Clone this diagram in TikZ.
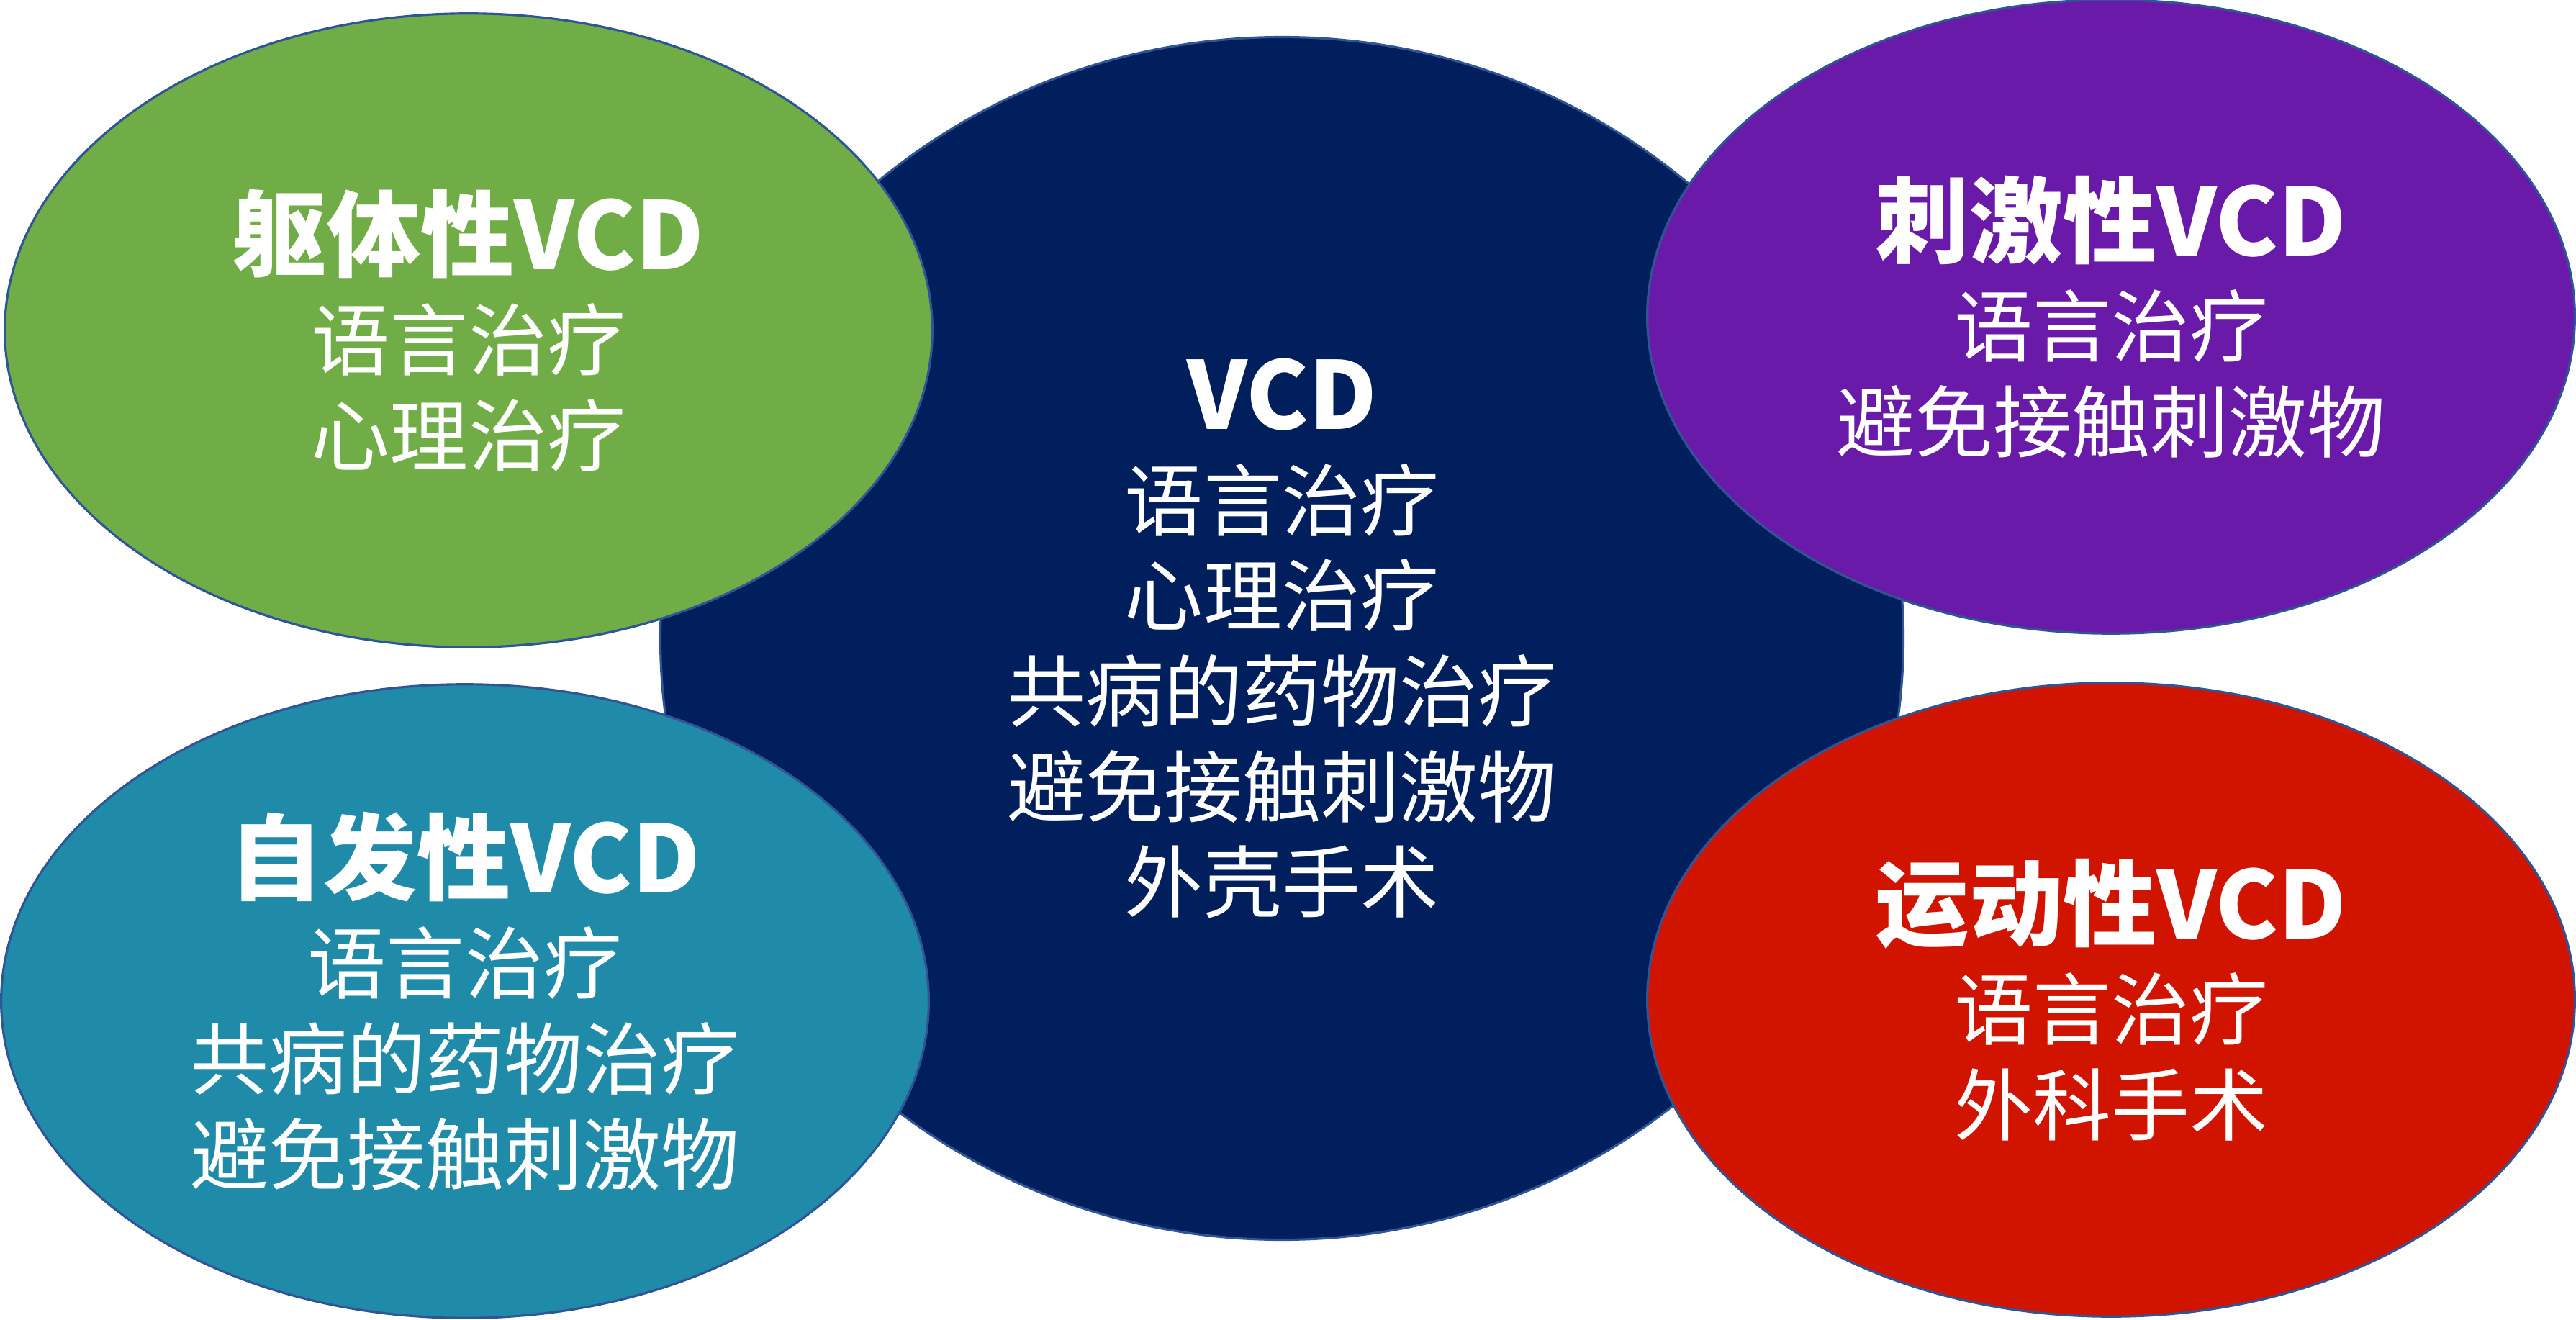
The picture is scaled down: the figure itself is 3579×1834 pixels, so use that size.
\documentclass[tikz,border=0pt]{standalone}
\usepackage{fontspec}
\setmainfont{Noto Sans CJK SC}
\usetikzlibrary{shapes.geometric}
\definecolor{rim}{HTML}{2F5597}
\definecolor{navy}{HTML}{001F5C}
\definecolor{leaf}{HTML}{70AD47}
\definecolor{grape}{HTML}{6A1AA8}
\definecolor{sea}{HTML}{1F8BA8}
\definecolor{brick}{HTML}{D11400}
\tikzset{blob/.style={ellipse,draw=rim,line width=0.9pt,inner sep=0pt,text=white,align=center,font=\fontsize{31pt}{37.7pt}\selectfont}}
\tikzset{side/.style={blob,minimum width=12.88cm,minimum height=8.8cm}}
\newcommand{\ttl}[1]{{\fontsize{37pt}{40pt}\selectfont\bfseries #1}\\[2pt]}

\begin{document}
\begin{tikzpicture}[x=0.01cm,y=-0.01cm]
    \useasboundingbox (0,0) rectangle (3579,1834);
    \node[blob,fill=navy,minimum width=17.26cm,minimum height=16.7cm] (vcd) at (1781,887)
      {\ttl{VCD}语言治疗\\心理治疗\\共病的药物治疗\\避免接触刺激物\\外壳手术};
    \node[side,fill=leaf] (soma) at (651,459)
      {\ttl{躯体性VCD}语言治疗\\心理治疗};
    \node[side,fill=grape] (irri) at (2933,440)
      {\ttl{刺激性VCD}语言治疗\\避免接触刺激物};
    \node[side,fill=sea] (spon) at (646,1391)
      {\ttl{自发性VCD}语言治疗\\共病的药物治疗\\避免接触刺激物};
    \node[side,fill=brick] (moto) at (2933,1389)
      {\ttl{运动性VCD}语言治疗\\外科手术};
\end{tikzpicture}
\end{document}
